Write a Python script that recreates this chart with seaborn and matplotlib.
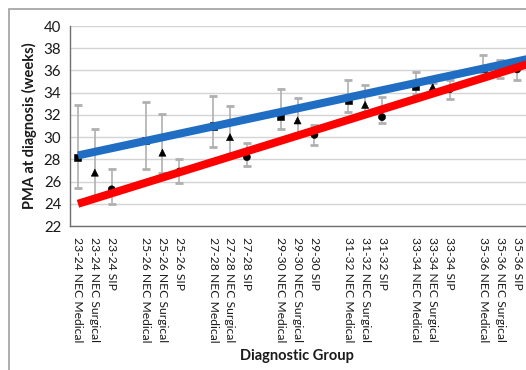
import pandas as pd
import seaborn as sns
import matplotlib.pyplot as plt
from matplotlib.patches import Rectangle

groups = ["23-24", "25-26", "27-28", "29-30", "31-32", "33-34", "35-36"]
types = ["NEC Medical", "NEC Surgical", "SIP"]

# mean PMA, one row per GA group: NEC Medical, NEC Surgical, SIP
pma = [[28.2, 26.8, 25.3],
       [29.7, 28.6, 26.9],
       [31.0, 30.0, 28.2],
       [31.9, 31.5, 30.2],
       [33.3, 32.9, 31.8],
       [34.6, 34.5, 34.3],
       [36.2, 36.2, 36.1]]
upper = [[32.9, 30.7, 27.1],
         [33.2, 32.1, 28.0],
         [33.7, 32.8, 29.5],
         [34.3, 33.5, 31.1],
         [35.1, 34.7, 33.6],
         [35.9, 34.9, 35.1],
         [37.4, 36.9, 36.5]]
lower = [[25.4, 24.6, 24.0],
         [27.1, 26.8, 25.9],
         [29.1, 28.5, 27.4],
         [30.7, 30.4, 29.3],
         [32.3, 32.3, 31.3],
         [33.9, 34.1, 33.4],
         [35.9, 35.3, 35.1]]

# trend lines, value at first slot and at slot 27
trend_slots = [0, 27]
blue_trend = [28.35, 37.15]
red_trend = [24.0, 36.75]

rows = []
for gi, g in enumerate(groups):
    for ti, t in enumerate(types):
        rows.append({"slot": gi * 4 + ti, "label": g + " " + t, "type": t,
                     "pma": pma[gi][ti], "lo": lower[gi][ti], "hi": upper[gi][ti]})
df = pd.DataFrame(rows)

sns.set_style("white")
plt.rcParams["font.family"] = ["Lato", "DejaVu Sans"]

fig = plt.figure(figsize=(5.26, 3.70), dpi=100)
ax = fig.add_axes([69.5 / 526, 1 - 226 / 370, 473 / 526, 200 / 370])

# error bars: gray stems, black caps
eb = ax.errorbar(df["slot"], df["pma"], yerr=[df["pma"] - df["lo"], df["hi"] - df["pma"]],
                 fmt="none", ecolor="#b0b0b0", elinewidth=1.2, capsize=3, capthick=2, zorder=2)
for cap in eb[1]:
    cap.set_color("black")

sns.scatterplot(data=df, x="slot", y="pma", style="type",
                markers={"NEC Medical": "s", "NEC Surgical": "^", "SIP": "o"},
                color="black", s=26, edgecolor="black", legend=False, ax=ax, zorder=3)

tr = pd.DataFrame({"slot": trend_slots, "blue": blue_trend, "red": red_trend})
sns.lineplot(data=tr, x="slot", y="blue", color="#1f6ec4", lw=5.8, ax=ax,
             solid_capstyle="butt")
sns.lineplot(data=tr, x="slot", y="red", color="#ff0000", lw=5.8, ax=ax,
             solid_capstyle="butt")
for ln in ax.lines[-2:]:
    ln.set_zorder(6)

ax.set_ylim(22, 40)
ax.set_xlim(-0.5, 27.5)
ax.set_yticks(range(22, 41, 2))
ax.yaxis.grid(True, color="#d4d4d4", lw=1)
ax.set_axisbelow(True)

ax.set_xticks([s - 0.5 for s in range(0, 29)])
ax.set_xticklabels([])
ax.set_xticks(df["slot"], minor=True)
ax.set_xticklabels(df["label"], minor=True, rotation=270, ha="center", va="top",
                   fontsize=8.7, color="#1a1a1a")
ax.tick_params(axis="x", which="major", length=4, width=0.8, color="#707070", direction="out")
ax.tick_params(axis="x", which="minor", length=0, pad=8)
ax.tick_params(axis="y", length=4, width=0.8, color="#707070", direction="out",
               labelsize=10.8, labelcolor="#1a1a1a", pad=2)

for side in ["top", "right"]:
    ax.spines[side].set_visible(False)
for side in ["left", "bottom"]:
    ax.spines[side].set_color("#707070")
    ax.spines[side].set_linewidth(1)

ax.set_xlabel("")
ax.set_ylabel("PMA at diagnosis (weeks)", fontsize=10.5, fontweight="bold",
              color="#1a1a1a", labelpad=5)
fig.text(297 / 526, 1 - 356 / 370, "Diagnostic Group", fontsize=10.5, fontweight="bold",
         color="#1a1a1a", ha="center", va="center")

fig.patches.append(Rectangle((9 / 526, -0.2), 1.2, 1 - 9 / 370 + 0.2, transform=fig.transFigure,
                             fill=False, edgecolor="#a0a0a0", lw=1.2))

fig.savefig("out.png", dpi=100)
